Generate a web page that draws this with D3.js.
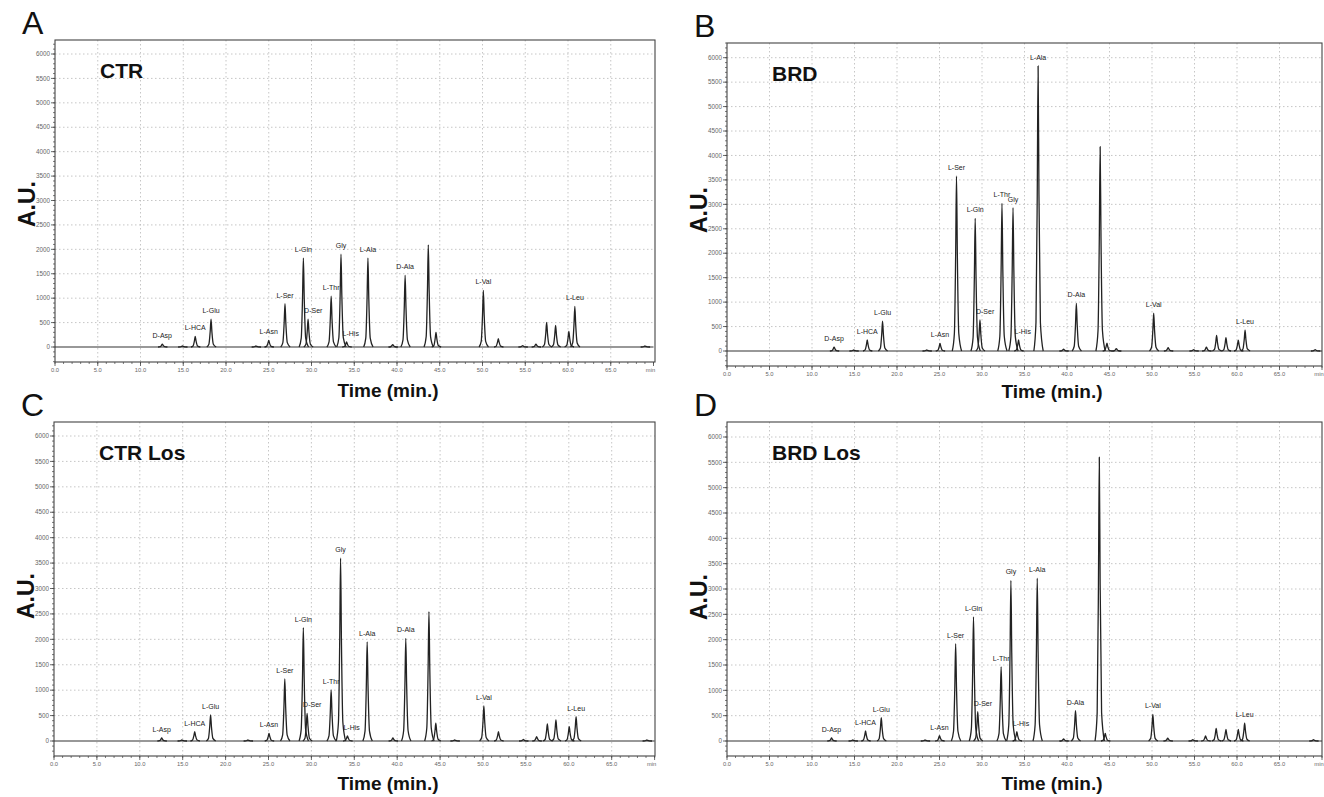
<!DOCTYPE html>
<html>
<head>
<meta charset="utf-8">
<script src="https://cdn.jsdelivr.net/npm/d3@7"></script>
<style>
body { margin: 0; background: #fff; }
text { font-family: "Liberation Sans", Arial, sans-serif; -webkit-font-smoothing: antialiased; }
</style>
</head>
<body>
<div id="container"></div>
<script>
const WIDTH = 1324;
const HEIGHT = 797;

// retention time (min), peak height (A.U.) and peak name
const TIMES_A = [12.55, 14.9, 16.4, 18.25, 23.5, 25.0, 26.9, 29.05, 29.6, 32.3, 33.45, 34.1, 36.6, 39.5, 40.95, 43.66, 44.56, 50.1, 51.85, 54.7, 56.25, 57.5, 58.55, 60.1, 60.8, 69.0];
const HEIGHTS_A = [60, 20, 217, 570, 20, 135, 887, 1820, 570, 1040, 1900, 105, 1820, 50, 1467, 2090, 300, 1160, 170, 30, 60, 505, 443, 320, 832, 20];
const NAMES_A = ["D-Asp", "", "L-HCA", "L-Glu", "", "L-Asn", "L-Ser", "L-Gln", "D-Ser", "L-Thr", "Gly", "L-His", "L-Ala", "", "D-Ala", "", "", "L-Val", "", "", "", "", "", "", "L-Leu", ""];

const TIMES_B = [12.6, 14.9, 16.5, 18.3, 23.5, 25.06, 27.0, 29.2, 29.76, 32.35, 33.65, 34.3, 36.6, 39.6, 41.1, 43.9, 44.7, 45.8, 50.2, 51.9, 54.9, 56.4, 57.6, 58.7, 60.15, 60.95, 69.2];
const HEIGHTS_B = [80, 20, 225, 610, 20, 157, 3580, 2713, 634, 3020, 2930, 225, 5830, 40, 975, 4180, 160, 50, 775, 70, 30, 80, 320, 275, 220, 425, 30];
const NAMES_B = ["D-Asp", "", "L-HCA", "L-Glu", "", "L-Asn", "L-Ser", "L-Gln", "D-Ser", "L-Thr", "Gly", "L-His", "L-Ala", "", "D-Ala", "", "", "", "L-Val", "", "", "", "", "", "", "L-Leu", ""];

const TIMES_C = [12.55, 14.9, 16.4, 18.25, 22.6, 25.06, 26.9, 29.06, 29.5, 32.3, 33.4, 34.2, 36.5, 39.5, 41.0, 43.7, 44.5, 46.7, 50.1, 51.8, 54.7, 56.25, 57.5, 58.5, 60.05, 60.85, 69.1];
const HEIGHTS_C = [60, 20, 183, 512, 20, 150, 1220, 2230, 545, 1004, 3600, 100, 1950, 60, 2020, 2545, 350, 20, 690, 183, 30, 85, 335, 413, 282, 480, 20];
const NAMES_C = ["L-Asp", "", "L-HCA", "L-Glu", "", "L-Asn", "L-Ser", "L-Gln", "D-Ser", "L-Thr", "Gly", "L-His", "L-Ala", "", "D-Ala", "", "", "", "L-Val", "", "", "", "", "", "", "L-Leu", ""];

const TIMES_D = [12.3, 14.8, 16.3, 18.15, 23.3, 25.0, 26.9, 29.0, 29.5, 32.25, 33.4, 34.1, 36.5, 39.6, 41.0, 43.8, 44.5, 50.1, 51.85, 54.8, 56.3, 57.55, 58.7, 60.15, 60.9, 69.0];
const HEIGHTS_D = [60, 20, 197, 460, 20, 105, 1920, 2450, 577, 1463, 3170, 183, 3215, 40, 597, 5600, 150, 525, 55, 25, 100, 250, 230, 230, 350, 25];
const NAMES_D = ["D-Asp", "", "L-HCA", "L-Glu", "", "L-Asn", "L-Ser", "L-Gln", "D-Ser", "L-Thr", "Gly", "L-His", "L-Ala", "", "D-Ala", "", "", "L-Val", "", "", "", "", "", "", "L-Leu", ""];

const Y_TICKS = [0, 500, 1000, 1500, 2000, 2500, 3000, 3500, 4000, 4500, 5000, 5500, 6000];
const X_TICKS = [0, 5, 10, 15, 20, 25, 30, 35, 40, 45, 50, 55, 60, 65, 70];
const X_TICK_LABELS = ["0.0", "5.0", "10.0", "15.0", "20.0", "25.0", "30.0", "35.0", "40.0", "45.0", "50.0", "55.0", "60.0", "65.0", "min"];

// drawing style: shape of one peak as (time offset, fraction of height)
const PEAK_SHAPE = [[-0.5, 0], [-0.25, 0.1], [-0.1, 0.55], [0, 1], [0.1, 0.55], [0.27, 0.1], [0.6, 0]];
const LABEL_RIGHT = ["D-Ser", "L-His"];

var panels = [
    {letter: "A", title: "CTR", times: TIMES_A, heights: HEIGHTS_A, names: NAMES_A,
        left: 55, right: 655, x70: 653.5, top: 40, bottom: 362, zero: 347, six: 54, auY: 204, timeX: 388, timeY: 397},
    {letter: "B", title: "BRD", times: TIMES_B, heights: HEIGHTS_B, names: NAMES_B,
        left: 727, right: 1322, x70: 1322, top: 43, bottom: 366, zero: 351, six: 57.7, auY: 210, timeX: 1052, timeY: 398},
    {letter: "C", title: "CTR Los", times: TIMES_C, heights: HEIGHTS_C, names: NAMES_C,
        left: 54, right: 655, x70: 654.6, top: 422, bottom: 756, zero: 741, six: 436, auY: 596, timeX: 388, timeY: 790},
    {letter: "D", title: "BRD Los", times: TIMES_D, heights: HEIGHTS_D, names: NAMES_D,
        left: 727, right: 1322, x70: 1322, top: 422, bottom: 756, zero: 741, six: 437, auY: 597, timeX: 1052, timeY: 790}
];

var drawPanel = function (svg, p) {
    var x = d3.scaleLinear().domain([0, 70]).range([p.left, p.x70]);
    var y = d3.scaleLinear().domain([0, 6000]).range([p.zero, p.six]);
    var yMin = y.invert(p.bottom), yMax = y.invert(p.top);
    var g = svg.append("g");

    // dotted grid
    g.selectAll(".hgrid").data(Y_TICKS.filter(d => d > 0)).enter().append("line")
        .attr("x1", p.left).attr("x2", p.right)
        .attr("y1", d => y(d)).attr("y2", d => y(d))
        .attr("stroke", "#b8b8b8").attr("stroke-width", 0.8).attr("stroke-dasharray", "1.5,2.5");
    g.selectAll(".vgrid").data(X_TICKS.filter(d => d > 0 && d < 70)).enter().append("line")
        .attr("x1", d => x(d)).attr("x2", d => x(d))
        .attr("y1", p.top).attr("y2", p.bottom)
        .attr("stroke", "#b8b8b8").attr("stroke-width", 0.8).attr("stroke-dasharray", "1.5,2.5");

    // frame
    g.append("rect").attr("x", p.left).attr("y", p.top)
        .attr("width", p.right - p.left).attr("height", p.bottom - p.top)
        .attr("fill", "none").attr("stroke", "#444").attr("stroke-width", 1.1);

    // left axis, major + minor ticks
    var yMinor = d3.range(Math.ceil(yMin / 100) * 100, yMax, 100);
    g.selectAll(".ymin").data(yMinor).enter().append("line")
        .attr("x1", p.left - 2).attr("x2", p.left)
        .attr("y1", d => y(d)).attr("y2", d => y(d))
        .attr("stroke", "#444").attr("stroke-width", 0.7);
    g.selectAll(".ymaj").data(Y_TICKS).enter().append("line")
        .attr("x1", p.left - 4).attr("x2", p.left)
        .attr("y1", d => y(d)).attr("y2", d => y(d))
        .attr("stroke", "#444").attr("stroke-width", 0.8);
    g.selectAll(".ylab").data(Y_TICKS).enter().append("text")
        .attr("x", p.left - 5).attr("y", d => y(d) + 2.2)
        .attr("text-anchor", "end").attr("font-size", 6.3).attr("fill", "#666")
        .text(d => d);

    // bottom axis
    g.selectAll(".xmin").data(d3.range(0, 71, 1)).enter().append("line")
        .attr("x1", d => x(d)).attr("x2", d => x(d))
        .attr("y1", p.bottom).attr("y2", p.bottom + 2)
        .attr("stroke", "#444").attr("stroke-width", 0.7);
    g.selectAll(".xmaj").data(X_TICKS).enter().append("line")
        .attr("x1", d => x(d)).attr("x2", d => x(d))
        .attr("y1", p.bottom).attr("y2", p.bottom + 4)
        .attr("stroke", "#444").attr("stroke-width", 0.8);
    g.selectAll(".xlab").data(X_TICKS).enter().append("text")
        .attr("x", (d, i) => i === X_TICKS.length - 1 ? x(d) - 3 : x(d))
        .attr("y", p.bottom + 10)
        .attr("text-anchor", "middle").attr("font-size", 5.8).attr("fill", "#666")
        .text((d, i) => X_TICK_LABELS[i]);

    // trace: baseline plus one glyph per peak
    var line = d3.line().x(d => x(d[0])).y(d => y(d[1])).curve(d3.curveMonotoneX);
    g.append("path").datum([[0, 0], [70, 0]]).attr("d", line)
        .attr("fill", "none").attr("stroke", "#333").attr("stroke-width", 1.2);
    var peaks = p.times.map((t, i) => ({t: t, h: p.heights[i], name: p.names[i]}));
    g.selectAll(".peak").data(peaks).enter().append("path")
        .attr("d", d => line(PEAK_SHAPE.map(s => [d.t + s[0], d.h * s[1]])))
        .attr("fill", "none").attr("stroke", "#222").attr("stroke-width", 1.3)
        .attr("stroke-linejoin", "round");

    g.selectAll(".plab").data(peaks.filter(d => d.name)).enter().append("text")
        .attr("x", d => LABEL_RIGHT.includes(d.name) ? x(d.t) - 4 : x(d.t))
        .attr("y", d => y(d.h) - 6)
        .attr("text-anchor", d => LABEL_RIGHT.includes(d.name) ? "start" : "middle")
        .attr("font-size", 7).attr("fill", "#222")
        .text(d => d.name);

    // titles
    g.append("text").attr("x", p.left - 33).attr("y", p.top - 6)
        .attr("font-size", 32).attr("fill", "#111").text(p.letter);
    g.append("text").attr("x", p.left + 45).attr("y", p.top + 38)
        .attr("font-size", 21).attr("font-weight", "bold").attr("fill", "#111").text(p.title);
    g.append("text").attr("transform", "translate(" + (p.left - 20) + "," + p.auY + ") rotate(-90)")
        .attr("text-anchor", "middle").attr("font-size", 23).attr("font-weight", "bold")
        .attr("fill", "#111").text("A.U.");
    g.append("text").attr("x", p.timeX).attr("y", p.timeY)
        .attr("text-anchor", "middle").attr("font-size", 19).attr("font-weight", "bold")
        .attr("fill", "#111").text("Time (min.)");
};

var svg = d3.select("#container").append("svg")
    .attr("width", WIDTH).attr("height", HEIGHT);
panels.forEach(p => drawPanel(svg, p));
</script>
</body>
</html>
